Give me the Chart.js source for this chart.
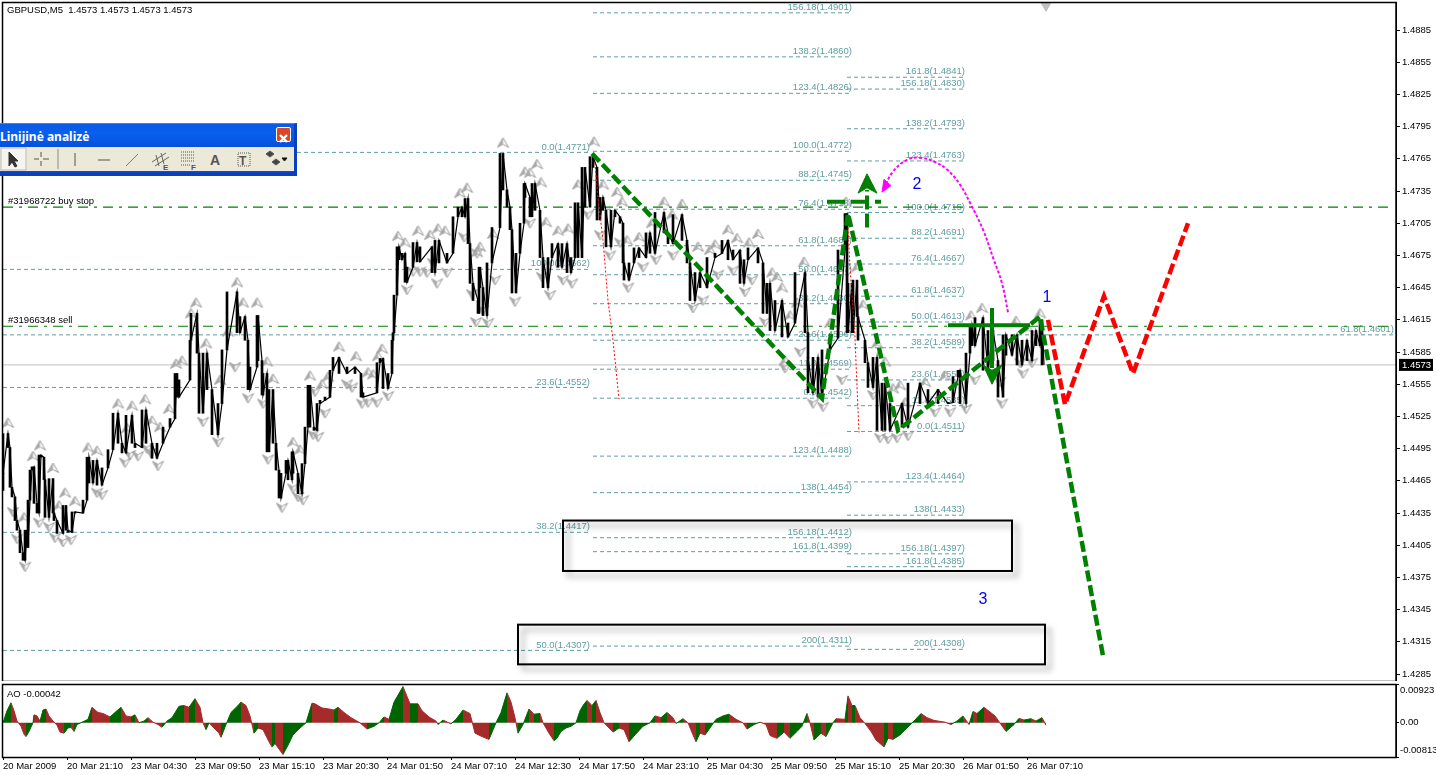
<!DOCTYPE html>
<html>
<head>
<meta charset="utf-8">
<title>GBPUSD,M5</title>
<script src="https://cdn.jsdelivr.net/npm/chart.js@4/dist/chart.umd.min.js"></script>
<style>
  html, body { margin: 0; padding: 0; background: #fff; overflow: hidden; }
  canvas { position: absolute; left: 0; }
  #mainChart { top: 0; }
  #aoChart { top: 682px; }
  #toolbar { position: absolute; left: 0; top: 123px; width: 297px; height: 53px; box-sizing: border-box;
    background: #0a4fd8; border-top: 1px solid #3a86f0; border-right: 3px solid #0a3fc0; border-bottom: 4px solid #0a3fc0; }
  #title { height: 23px; color: #fff; font: bold 12px/25px "Noto Sans", sans-serif;
    background: linear-gradient(#0a5be6, #0860ee 40%, #0550dc); white-space: nowrap; position: relative; }
  #close { position: absolute; right: 3px; top: 3px; width: 13px; height: 13px; border: 1px solid #fff; border-radius: 2px; background: #d8482a; }
  #tools { background: #ece9d8; height: 24px; }
  #tools svg { display: block; }
</style>
</head>
<body>
<canvas id="mainChart" width="1436" height="681"></canvas>
<canvas id="aoChart" width="1436" height="93"></canvas>
<div id="toolbar">
  <div id="title">Linijinė analizė<div id="close"><svg width="13" height="13"><path d="M3 3L10 10M10 3L3 10" stroke="#fff" stroke-width="2.4"/></svg></div></div>
  <div id="tools">
    <svg width="294" height="24" fill="none" stroke="#555" stroke-width="1">
      <rect x="1" y="1" width="25" height="22" fill="#f5f4ee" stroke="#bbb"/>
      <path d="M9 5L9 19L12 15L15 20L17 19L14 14L18 14Z" fill="#333" stroke="#333"/>
      <path d="M41 5V10M41 14V19M34 12H39M43 12H49"/>
      <path d="M58 2V22" stroke="#aaa" stroke-width="1.5"/>
      <path d="M75 6V19"/>
      <path d="M98 13H110"/>
      <path d="M126 19L138 7" stroke="#777"/>
      <path d="M152 15L166 6M155 19L169 10M156 8L159 19M161 6L164 17" stroke="#666"/>
      <text x="163" y="23" font-size="8" font-family="Liberation Sans" font-weight="bold" fill="#555" stroke="none">E</text>
      <path d="M181 5H195M181 8H195M181 11H195M181 14H195M181 18H191" stroke-dasharray="1 1"/>
      <text x="191" y="23" font-size="8" font-family="Liberation Sans" font-weight="bold" fill="#555" stroke="none">F</text>
      <text x="210" y="18" font-size="14" font-family="Liberation Sans" font-weight="bold" fill="#555" stroke="none">A</text>
      <rect x="238" y="6" width="12" height="13" stroke-dasharray="1 1"/>
      <text x="239" y="18" font-size="12" font-family="Liberation Sans" font-weight="bold" fill="#555" stroke="none">T</text>
      <path d="M266 7L270 4L274 7L270 10ZM272 15L276 12L280 15L276 18Z" fill="#444"/>
      <path d="M282 11H287L284.5 14Z" fill="#111" stroke="#111"/>
    </svg>
  </div>
</div>
<script>
// ------------------ DATA ------------------
const firstBar = 3;
const lastBar = 1396;

const priceTicks = [1.4885, 1.4855, 1.4825, 1.4795, 1.4765, 1.4735, 1.4705, 1.4675, 1.4645, 1.4615, 1.4585, 1.4555, 1.4525, 1.4495, 1.4465, 1.4435, 1.4405, 1.4375, 1.4345, 1.4315, 1.4285];
const timeLabels = ["20 Mar 2009", "20 Mar 21:10", "23 Mar 04:30", "23 Mar 09:50", "23 Mar 15:10", "23 Mar 20:30", "24 Mar 01:50", "24 Mar 07:10", "24 Mar 12:30", "24 Mar 17:50", "24 Mar 23:10", "25 Mar 04:30", "25 Mar 09:50", "25 Mar 15:10", "25 Mar 20:30", "26 Mar 01:50", "26 Mar 07:10"];
const timeTicks = [3, 67, 131, 195, 259, 323, 387, 451, 515, 579, 643, 707, 771, 835, 899, 963, 1027];

const priceBars = [3,3,8,10,12,15,17,20,23,25,27,28,30,32,34,37,39,41,44,45,49,53,54,57,63,66,68,72,75,83,87,89,93,97,102,108,113,118,122,126,132,135,142,146,152,157,163,170,175,177,179,190,191,197,199,203,207,212,218,222,227,237,240,245,248,250,257,258,262,263,267,269,273,276,279,281,286,288,292,293,298,302,305,308,310,314,317,320,325,330,333,339,347,355,361,363,377,380,383,388,392,393,394,397,399,402,405,407,413,417,420,432,435,439,447,453,458,462,465,468,470,473,478,479,480,483,487,492,500,503,507,510,512,516,520,524,525,530,532,535,540,543,548,552,558,562,567,571,575,578,582,585,590,593,597,600,603,606,611,615,620,623,624,629,634,639,646,650,655,664,668,673,682,687,690,695,700,707,715,722,728,733,740,744,748,758,763,767,770,775,782,788,795,805,808,808,813,818,822,830,838,845,847,848,852,853,857,858,865,868,873,877,882,885,890,902,908,920,928,938,948,953,958,960,966,970,972,975,983,988,993,998,1003,1006,1012,1017,1022,1027,1032,1036,1040,1042,1044];
const priceValues = [1.4456,1.4472,1.4509,1.4496,1.4459,1.4450,1.4428,1.4419,1.4398,1.4391,1.4419,1.4403,1.4447,1.4475,1.4478,1.4444,1.4435,1.4489,1.4487,1.4466,1.4431,1.4467,1.4435,1.4428,1.4416,1.4442,1.4419,1.4417,1.4436,1.4435,1.4447,1.4487,1.4463,1.4484,1.4461,1.4477,1.4494,1.4528,1.4500,1.4491,1.4526,1.4500,1.4496,1.4531,1.4500,1.4486,1.4500,1.4515,1.4523,1.4565,1.4543,1.4559,1.4596,1.4621,1.4584,1.4528,1.4584,1.4550,1.4508,1.4537,1.4587,1.4641,1.4603,1.4618,1.4596,1.4550,1.4571,1.4619,1.4577,1.4545,1.4565,1.4492,1.4550,1.4500,1.4475,1.4449,1.4472,1.4484,1.4466,1.4492,1.4472,1.4453,1.4481,1.4515,1.4554,1.4515,1.4512,1.4537,1.4540,1.4543,1.4568,1.4580,1.4565,1.4571,1.4565,1.4543,1.4547,1.4575,1.4579,1.4551,1.4565,1.4596,1.4603,1.4638,1.4683,1.4671,1.4677,1.4650,1.4664,1.4687,1.4669,1.4683,1.4659,1.4689,1.4668,1.4677,1.4711,1.4720,1.4711,1.4728,1.4686,1.4649,1.4633,1.4621,1.4664,1.4645,1.4619,1.4668,1.4701,1.4770,1.4736,1.4720,1.4699,1.4640,1.4677,1.4705,1.4742,1.4729,1.4711,1.4742,1.4717,1.4673,1.4645,1.4673,1.4686,1.4664,1.4686,1.4659,1.4673,1.4724,1.4673,1.4757,1.4720,1.4767,1.4757,1.4708,1.4729,1.4717,1.4683,1.4717,1.4711,1.4705,1.4668,1.4652,1.4668,1.4682,1.4673,1.4696,1.4677,1.4715,1.4696,1.4686,1.4713,1.4689,1.4668,1.4633,1.4659,1.4645,1.4673,1.4677,1.4689,1.4671,1.4680,1.4649,1.4671,1.4682,1.4668,1.4621,1.4649,1.4605,1.4633,1.4599,1.4612,1.4659,1.4603,1.4580,1.4547,1.4580,1.4543,1.4587,1.4598,1.4680,1.4714,1.4603,1.4649,1.4603,1.4652,1.4618,1.4596,1.4575,1.4552,1.4580,1.4512,1.4556,1.4512,1.4537,1.4515,1.4556,1.4537,1.4550,1.4537,1.4538,1.4562,1.4568,1.4537,1.4584,1.4610,1.4591,1.4617,1.4568,1.4605,1.4577,1.4543,1.4601,1.4582,1.4601,1.4573,1.4596,1.4577,1.4605,1.4591,1.4615,1.4573];

const fractalUpBars = [8,40,33,53,65,75,59,24,88,97,118,132,145,169,152,160,127,176,182,220,206,267,273,293,300,310,328,322,339,356,368,373,382,378,196,191,237,243,257,228,398,405,418,430,438,445,467,460,477,503,480,493,525,530,537,541,546,558,568,578,594,603,617,622,627,639,652,664,682,672,698,710,715,728,737,749,758,772,777,782,804,790,797,830,846,857,863,785,877,885,900,893,905,925,945,971,982,1016,1040,1028];
const fractalUpPrices = [1.4519,1.4498,1.4488,1.4477,1.4454,1.4446,1.4442,1.4431,1.4496,1.4493,1.4537,1.4535,1.4541,1.4532,1.4521,1.4515,1.4514,1.4574,1.4577,1.4559,1.4593,1.4576,1.4560,1.4501,1.4494,1.4563,1.4562,1.4555,1.4590,1.4581,1.4566,1.4564,1.4588,1.4581,1.4631,1.4621,1.4650,1.4631,1.4631,1.4604,1.4693,1.4687,1.4698,1.4694,1.4700,1.4698,1.4738,1.4733,1.4678,1.4780,1.4683,1.4695,1.4753,1.4752,1.4760,1.4743,1.4706,1.4698,1.4700,1.4741,1.4781,1.4741,1.4734,1.4725,1.4689,1.4692,1.4705,1.4725,1.4723,1.4713,1.4683,1.4680,1.4685,1.4699,1.4691,1.4687,1.4695,1.4659,1.4655,1.4645,1.4669,1.4619,1.4631,1.4612,1.4725,1.4664,1.4629,1.4577,1.4593,1.4576,1.4554,1.4551,1.4538,1.4557,1.4563,1.4619,1.4626,1.4614,1.4621,1.4607];
const fractalDownBars = [13,17,25,39,49,55,63,71,97,102,125,130,138,147,151,158,203,218,235,248,263,268,282,293,298,303,313,318,325,362,368,377,388,347,352,315,407,413,420,427,437,447,433,464,472,477,476,483,488,515,495,530,542,550,563,572,588,600,610,620,628,643,656,673,693,703,718,733,745,752,765,800,813,823,785,842,873,880,888,897,908,935,950,966,975,1002,1023,1032,1000,1020];
const fractalDownPrices = [1.4436,1.4411,1.4385,1.4426,1.4422,1.4412,1.4408,1.4410,1.4454,1.4452,1.4482,1.4489,1.4488,1.4495,1.4491,1.4479,1.4520,1.4501,1.4571,1.4542,1.4537,1.4485,1.4440,1.4458,1.4450,1.4447,1.4508,1.4506,1.4528,1.4537,1.4538,1.4538,1.4544,1.4555,1.4552,1.4548,1.4643,1.4660,1.4660,1.4659,1.4649,1.4659,1.4668,1.4692,1.4639,1.4677,1.4613,1.4624,1.4612,1.4632,1.4652,1.4705,1.4655,1.4638,1.4652,1.4649,1.4713,1.4694,1.4675,1.4687,1.4645,1.4664,1.4671,1.4675,1.4626,1.4633,1.4657,1.4661,1.4641,1.4652,1.4613,1.4585,1.4537,1.4534,1.4570,1.4559,1.4545,1.4505,1.4504,1.4505,1.4507,1.4529,1.4529,1.4532,1.4559,1.4537,1.4565,1.4575,1.4557,1.4575];

// Fibonacci sets: level text, price, and the bar range they span
const fibALevels = ["0.0", "100.0", "23.6", "38.2", "50.0"];
const fibAPrices = [1.4771, 1.4662, 1.4552, 1.4417, 1.4307];
const fibARange = [3, 590];
const fibLongLevels = ["61.8"];
const fibLongPrices = [1.4601];
const fibLongRange = [3, 1394];
const fibBLevels = ["156.18", "138.2", "123.4", "100.0", "88.2", "76.4", "61.8", "50.0", "38.2", "23.6", "11.8", "0.0", "123.4", "138", "156.18", "161.8", "200"];
const fibBPrices = [1.4901, 1.4860, 1.4826, 1.4772, 1.4745, 1.4718, 1.4684, 1.4657, 1.4630, 1.4596, 1.4569, 1.4542, 1.4488, 1.4454, 1.4412, 1.4399, 1.4311];
const fibBRange = [593, 852];
const fibCLevels = ["161.8", "156.18", "138.2", "123.4", "100.0", "88.2", "76.4", "61.8", "50.0", "38.2", "23.6", "11.8", "0.0", "123.4", "138", "156.18", "161.8", "200"];
const fibCPrices = [1.4841, 1.4830, 1.4793, 1.4763, 1.4715, 1.4691, 1.4667, 1.4637, 1.4613, 1.4589, 1.4559, 1.4535, 1.4511, 1.4464, 1.4433, 1.4397, 1.4385, 1.4308];
const fibCRange = [847, 965];

const buyStopPrice = 1.4720;
const sellPrice = 1.4609;
const lastPrice = 1.4573;

const waveBars = [592, 822, 848, 898, 1040, 1103];
const wavePrices = [1.4770, 1.4542, 1.4714, 1.4512, 1.4618, 1.4302];
const redBars = [1048, 1065, 1104, 1133, 1188];
const redPrices = [1.4615, 1.4536, 1.4637, 1.4565, 1.4705];
const magentaBars = [1008, 1002, 993, 983, 970, 960, 947, 935, 920, 907, 893, 883];
const magentaPrices = [1.4622, 1.4649, 1.4673, 1.4699, 1.4724, 1.4741, 1.4755, 1.4762, 1.4766, 1.4764, 1.4753, 1.4736];
const magentaHeadBars = [882, 884, 891, 882];
const magentaHeadPrices = [1.4734, 1.4746, 1.4740, 1.4734];
const dotsABars = [595, 598, 603, 608, 613, 619];
const dotsAPrices = [1.4761, 1.4729, 1.4689, 1.4633, 1.4596, 1.4541];
const dotsBBars = [848, 850, 855, 856, 859];
const dotsBPrices = [1.4701, 1.4664, 1.4599, 1.4575, 1.4510];

// green crosses with arrow heads
const upCrossBars = [827, 881];
const upCrossPrices = [1.4725, 1.4725];
const upStemBars = [867, 867];
const upStemPrices = [1.4701, 1.4736];
const upHeadBars = [858, 867, 877, 867, 858];
const upHeadPrices = [1.4733, 1.4751, 1.4733, 1.4738, 1.4733];
const downCrossBars = [948, 1030];
const downCrossPrices = [1.4610, 1.4610];
const downStemBars = [992, 992];
const downStemPrices = [1.4626, 1.4570];
const downHeadBars = [983, 992, 1002, 992, 983];
const downHeadPrices = [1.4573, 1.4555, 1.4573, 1.4568, 1.4573];

// boxes: left bar, right bar, top price, bottom price
const box1 = [563, 1012, 1.4428, 1.4381];
const box2 = [518, 1045, 1.4331, 1.4294];

const waveNumbers = ["1", "2", "3"];
const waveNumberBars = [1047, 917, 983];
const waveNumberPrices = [1.4636, 1.4741, 1.4354];

const shiftMarkBars = [1046];
const shiftMarkPrices = [1.4908];

const aoBars = [0,4,8,11,14,18,21,23,26,30,31,34,37,40,43,46,50,54,57,61,65,68,71,74,80,85,89,95,100,107,112,118,123,128,132,136,141,145,150,155,159,164,169,176,181,186,192,197,200,203,206,211,216,218,223,228,235,238,243,247,249,251,255,260,266,269,272,280,285,290,297,303,309,312,319,326,331,335,341,348,357,364,371,376,381,386,391,400,407,415,419,426,433,435,440,448,453,460,467,472,479,486,493,498,504,508,512,515,520,526,531,537,540,546,551,554,558,563,568,573,577,580,584,589,593,597,601,606,610,616,621,626,632,640,647,652,658,664,670,673,680,685,690,693,697,702,707,713,720,726,733,740,744,751,757,763,767,774,781,787,794,799,804,807,811,818,823,830,833,842,845,849,852,857,862,868,873,881,885,890,897,904,911,918,924,931,942,948,954,960,966,970,974,981,992,998,1003,1011,1016,1021,1028,1033,1039,1043];
const aoValues = [0,0.00287,0.00476,0.00287,0.00041,-0.00082,-0.00271,-0.00328,-0.00205,0,0.00189,0.00164,0.00041,0.00303,0.00328,0.00164,0.00041,-0.00057,-0.00221,-0.00246,-0.00123,-0.00107,-0.00205,-0.00041,0.00025,0.00082,0.00369,0.00246,0.00221,0.00139,0.00246,0.00369,0.00164,0.00139,0.00189,0,0.00041,0.00123,0.00016,-0.00041,-0.00107,0.00041,0.00123,0.00394,0.0041,0.00369,0.00574,0.00369,0,-0.00164,0,-0.00123,-0.00246,-0.00344,-0.00041,0.00246,0.0041,0.00492,0.0041,0.00164,-0.00041,-0.00246,-0.00123,-0.00164,-0.00451,-0.00574,-0.00492,-0.00754,-0.00533,-0.00287,-0.00123,0,0.00467,0.00451,0.00353,0.00328,0.00303,0.00369,0.00246,0.00123,0,-0.00148,-0.00082,0,0.00139,0.00082,0.00492,0.00861,0.00451,0.00451,0.00287,0.00139,0.00041,-0.00041,0.00066,-0.00025,0.00082,0.00303,0.00221,-0.00246,-0.00328,-0.00394,0,0.00246,0.00713,0.00492,0.00123,-0.00246,-0.00041,0.00328,0.00205,0.00221,0,-0.00246,-0.00426,-0.00369,-0.00205,-0.00123,-0.00082,0,0.00287,0.0041,0.00533,0.0041,0.00533,0.00246,0,-0.00123,-0.00221,-0.00123,-0.00164,-0.00451,-0.00287,-0.00082,0,0.00164,0.00123,0.00246,0.00123,-0.00016,0.00098,0,-0.00287,-0.00451,-0.00246,-0.00287,-0.00123,0.00082,0.00164,0.00205,0.00082,0,-0.00148,-0.00041,0.00016,-0.00041,-0.00303,-0.00369,-0.00221,-0.00369,-0.00205,-0.00082,0.00221,0,-0.0041,-0.00246,-0.00328,0,0.00098,0.00082,0.0064,0.0041,0.0041,0.00123,-0.00016,-0.00205,-0.0041,-0.00574,-0.00369,-0.00394,-0.00287,-0.00123,0.00041,0.00221,0.00123,0.00057,0.00016,-0.00041,0.00041,0.00164,-0.00041,0.00271,0.00221,0.00369,0.00164,-0.00041,-0.00205,-0.00041,0.00107,0.00066,0.00098,0.00041,0.00123,-0.00057];
const aoTicks = [0.00923, 0, -0.00813];
const aoTickLabels = ["0.00923", "0.00", "-0.00813"];

// ------------------ HELPERS ------------------
const TEAL = "#5f9ea0";
const GREEN = "#008000";
const FONT_FAMILY = '"Liberation Sans", sans-serif';
const TEXT_FONT = "9.5px " + FONT_FAMILY;

function pts(bars, values) {
  return bars.map((b, i) => ({ x: b, y: values[i] }));
}

function lineSet(bars, values, color, width, dash, extra) {
  return Object.assign({
    type: "line",
    data: pts(bars, values),
    borderColor: color,
    backgroundColor: color,
    borderWidth: width,
    borderDash: dash || [],
    pointRadius: 0,
    fill: false,
    tension: 0
  }, extra || {});
}

function fibSets(levels, prices, range) {
  return prices.map(p => lineSet(range, [p, p], TEAL, 1, [4, 3], { order: 90 }));
}

// every swing of the price trace as a high-low bar
function rangeBars() {
  const out = [];
  for (let i = 0; i < priceBars.length - 1; i++) {
    out.push({
      x: priceBars[i],
      y: [Math.min(priceValues[i], priceValues[i + 1]), Math.max(priceValues[i], priceValues[i + 1])]
    });
  }
  return out;
}

function fractalImage(up) {
  const c = document.createElement("canvas");
  c.width = 13;
  c.height = 12;
  const g = c.getContext("2d");
  if (!up) { g.translate(0, 12); g.scale(1, -1); }
  g.strokeStyle = "#999";
  g.lineWidth = 1;
  g.beginPath();
  g.moveTo(6.5, 1);
  g.lineTo(1, 10.5);
  g.lineTo(6.5, 7.5);
  g.lineTo(12, 10.5);
  g.closePath();
  g.stroke();
  g.fillStyle = "#aaa";
  g.beginPath();
  g.moveTo(6.5, 1);
  g.lineTo(1, 10.5);
  g.lineTo(6.5, 7.5);
  g.closePath();
  g.fill();
  return c;
}

function fractalSet(bars, values, up) {
  return {
    type: "line",
    data: pts(bars, values),
    showLine: false,
    pointStyle: fractalImage(up),
    pointRadius: 6,
    order: 40
  };
}

// ------------------ PLUGINS ------------------
const drawFibLabels = {
  id: "fibLabels",
  beforeDatasetsDraw(chart) {
    const { ctx, scales } = chart;
    const sets = [
      [fibALevels, fibAPrices, fibARange],
      [fibLongLevels, fibLongPrices, fibLongRange],
      [fibBLevels, fibBPrices, fibBRange],
      [fibCLevels, fibCPrices, fibCRange]
    ];
    ctx.save();
    ctx.font = TEXT_FONT;
    ctx.fillStyle = TEAL;
    ctx.textAlign = "right";
    ctx.textBaseline = "middle";
    sets.forEach(([levels, prices, range]) => {
      levels.forEach((lev, i) => {
        const txt = lev + "(" + prices[i].toFixed(4) + ")";
        ctx.fillText(txt, scales.x.getPixelForValue(range[1]), scales.y.getPixelForValue(prices[i]) - 5.5);
      });
    });
    // order comments
    ctx.fillStyle = "#000";
    ctx.textAlign = "left";
    ctx.fillText("#31968722 buy stop", 8, scales.y.getPixelForValue(buyStopPrice) - 6);
    ctx.fillText("#31966348 sell", 8, scales.y.getPixelForValue(sellPrice) - 6);
    ctx.restore();
  }
};

const drawBoxes = {
  id: "boxes",
  afterDatasetsDraw(chart) {
    const { ctx, scales } = chart;
    ctx.save();
    [box1, box2].forEach(b => {
      const x = scales.x.getPixelForValue(b[0]);
      const y = scales.y.getPixelForValue(b[2]);
      const w = scales.x.getPixelForValue(b[1]) - x;
      const h = scales.y.getPixelForValue(b[3]) - y;
      ctx.strokeStyle = "#000";
      ctx.lineWidth = 2;
      ctx.shadowColor = "rgba(0,0,0,0.4)";
      ctx.shadowBlur = 6;
      ctx.shadowOffsetX = 5;
      ctx.shadowOffsetY = 5;
      ctx.strokeRect(x, y, w, h);
    });
    ctx.restore();
    ctx.save();
    ctx.font = '16px "Liberation Sans", sans-serif';
    ctx.fillStyle = "#0000ff";
    ctx.textAlign = "center";
    ctx.textBaseline = "middle";
    waveNumbers.forEach((n, i) => {
      ctx.fillText(n, scales.x.getPixelForValue(waveNumberBars[i]), scales.y.getPixelForValue(waveNumberPrices[i]));
    });
    ctx.restore();
  }
};

const drawFrame = {
  id: "frame",
  afterDraw(chart) {
    const { ctx, chartArea: a } = chart;
    ctx.save();
    ctx.strokeStyle = "#000";
    ctx.lineWidth = 1.5;
    ctx.strokeRect(a.left - 0.5, a.top + 0.5, a.right - a.left + 0.5, a.bottom - a.top);
    ctx.restore();
  }
};

const drawHeader = {
  id: "header",
  afterDraw(chart) {
    const { ctx, scales } = chart;
    ctx.save();
    ctx.font = TEXT_FONT;
    ctx.fillStyle = "#000";
    ctx.textBaseline = "middle";
    ctx.fillText("GBPUSD,M5  1.4573 1.4573 1.4573 1.4573", 7, 10);
    const y = scales.y.getPixelForValue(lastPrice);
    ctx.fillRect(1399, y - 6, 34, 12);
    ctx.fillStyle = "#fff";
    ctx.fillText(lastPrice.toFixed(4), 1402, y + 0.5);
    ctx.restore();
  }
};

const drawAoText = {
  id: "aoText",
  afterDraw(chart) {
    const { ctx, scales } = chart;
    ctx.save();
    ctx.font = TEXT_FONT;
    ctx.fillStyle = "#000";
    ctx.textBaseline = "middle";
    ctx.fillText("AO -0.00042", 7, 12);
    const ys = [8, scales.y.getPixelForValue(0), 68];
    aoTickLabels.forEach((t, i) => ctx.fillText(t, 1400, ys[i]));
    ctx.restore();
  }
};

// ------------------ MAIN CHART ------------------
const mainDatasets = [
  lineSet(magentaBars, magentaPrices, "#ff00ff", 2, [3, 2], { order: 5, tension: 0.4 }),
  lineSet(magentaHeadBars, magentaHeadPrices, "#ff00ff", 1, [], { order: 5, fill: "shape" }),
  lineSet(waveBars, wavePrices, GREEN, 4.5, [11, 4], { order: 3 }),
  lineSet(redBars, redPrices, "#ff0000", 4.5, [11, 4], { order: 4 }),
  lineSet(upCrossBars, upCrossPrices, GREEN, 4, [18, 6], { order: 2 }),
  lineSet(upStemBars, upStemPrices, GREEN, 4, [14, 4], { order: 2 }),
  lineSet(upHeadBars, upHeadPrices, GREEN, 1, [], { order: 2, fill: "shape" }),
  lineSet(downCrossBars, downCrossPrices, GREEN, 4, [], { order: 2 }),
  lineSet(downStemBars, downStemPrices, GREEN, 4, [], { order: 2 }),
  lineSet(downHeadBars, downHeadPrices, GREEN, 1, [], { order: 2, fill: "shape" }),
  lineSet(priceBars, priceValues, "#000", 1.2, [], { order: 30 }),
  {
    type: "bar",
    data: rangeBars(),
    backgroundColor: "#000",
    barThickness: 2,
    order: 30
  },
  lineSet(dotsABars, dotsAPrices, "#ff0000", 1, [2, 2], { order: 25 }),
  lineSet(dotsBBars, dotsBPrices, "#ff0000", 1, [2, 2], { order: 25 }),
  fractalSet(fractalUpBars, fractalUpPrices, true),
  fractalSet(fractalDownBars, fractalDownPrices, false),
  lineSet([firstBar, lastBar], [lastPrice, lastPrice], "#c0c0c0", 1, [], { order: 80 }),
  lineSet([firstBar, 1392], [buyStopPrice, buyStopPrice], GREEN, 1.2, [10, 6, 3, 6], { order: 70 }),
  lineSet([firstBar, 1392], [sellPrice, sellPrice], GREEN, 1.2, [10, 6, 3, 6], { order: 70 }),
  {
    type: "line",
    data: pts(shiftMarkBars, shiftMarkPrices),
    showLine: false,
    pointStyle: "triangle",
    rotation: 180,
    pointRadius: 6,
    backgroundColor: "#c0c0c0",
    borderColor: "#c0c0c0",
    order: 50
  }
].concat(
  fibSets(fibALevels, fibAPrices, fibARange),
  fibSets(fibLongLevels, fibLongPrices, fibLongRange),
  fibSets(fibBLevels, fibBPrices, fibBRange),
  fibSets(fibCLevels, fibCPrices, fibCRange)
);

new Chart(document.getElementById("mainChart").getContext("2d"), {
  data: { datasets: mainDatasets },
  plugins: [drawFibLabels, drawBoxes, drawFrame, drawHeader],
  options: {
    responsive: false,
    animation: false,
    devicePixelRatio: 1,
    layout: { autoPadding: false, padding: { left: 3, top: 2, right: 0, bottom: 0 } },
    plugins: { legend: { display: false }, tooltip: { enabled: false } },
    scales: {
      x: { type: "linear", min: firstBar, max: lastBar, display: false, offset: false },
      y: {
        position: "right",
        min: 1.42785,
        max: 1.49111,
        afterBuildTicks(scale) { scale.ticks = priceTicks.map(v => ({ value: v })); },
        afterFit(scale) { scale.width = 40; scale.paddingTop = 0; scale.paddingBottom = 0; },
        border: { color: "#000", width: 1 },
        grid: { drawOnChartArea: false, tickLength: 4, tickColor: "#000" },
        ticks: {
          autoSkip: false,
          padding: 2,
          color: "#000",
          font: { family: FONT_FAMILY, size: 9.5 },
          callback: v => v.toFixed(4)
        }
      }
    }
  }
});

// ------------------ AO CHART ------------------
const aoColor = ctx => ctx.p1.parsed.y >= ctx.p0.parsed.y ? "#006400" : "#a52a2a";

new Chart(document.getElementById("aoChart").getContext("2d"), {
  type: "line",
  data: {
    datasets: [{
      data: pts(aoBars.map(b => b + firstBar), aoValues),
      borderColor: "#006400",
      backgroundColor: "#006400",
      borderWidth: 1,
      pointRadius: 0,
      fill: "origin",
      tension: 0,
      segment: { borderColor: aoColor, backgroundColor: aoColor }
    }]
  },
  plugins: [drawFrame, drawAoText],
  options: {
    responsive: false,
    animation: false,
    devicePixelRatio: 1,
    layout: { autoPadding: false, padding: { left: 3, top: 2, right: 0, bottom: 0 } },
    plugins: { legend: { display: false }, tooltip: { enabled: false } },
    scales: {
      x: {
        type: "linear",
        min: firstBar,
        max: lastBar,
        afterBuildTicks(scale) { scale.ticks = timeTicks.map(v => ({ value: v })); },
        afterFit(scale) { scale.height = 18; scale.paddingLeft = 0; scale.paddingRight = 0; },
        border: { color: "#000", width: 1 },
        grid: { drawOnChartArea: false, tickLength: 3, tickColor: "#000" },
        ticks: {
          autoSkip: false,
          maxRotation: 0,
          align: "start",
          padding: 1,
          color: "#000",
          font: { family: FONT_FAMILY, size: 9.5 },
          callback: v => timeLabels[timeTicks.indexOf(v)]
        }
      },
      y: {
        position: "right",
        min: -0.00813,
        max: 0.00923,
        afterBuildTicks(scale) { scale.ticks = aoTicks.map(v => ({ value: v })); },
        afterFit(scale) { scale.width = 40; },
        border: { color: "#000", width: 1 },
        grid: { drawOnChartArea: false, tickLength: 3, tickColor: "#000" },
        ticks: { display: false }
      }
    }
  }
});
</script>
</body>
</html>
